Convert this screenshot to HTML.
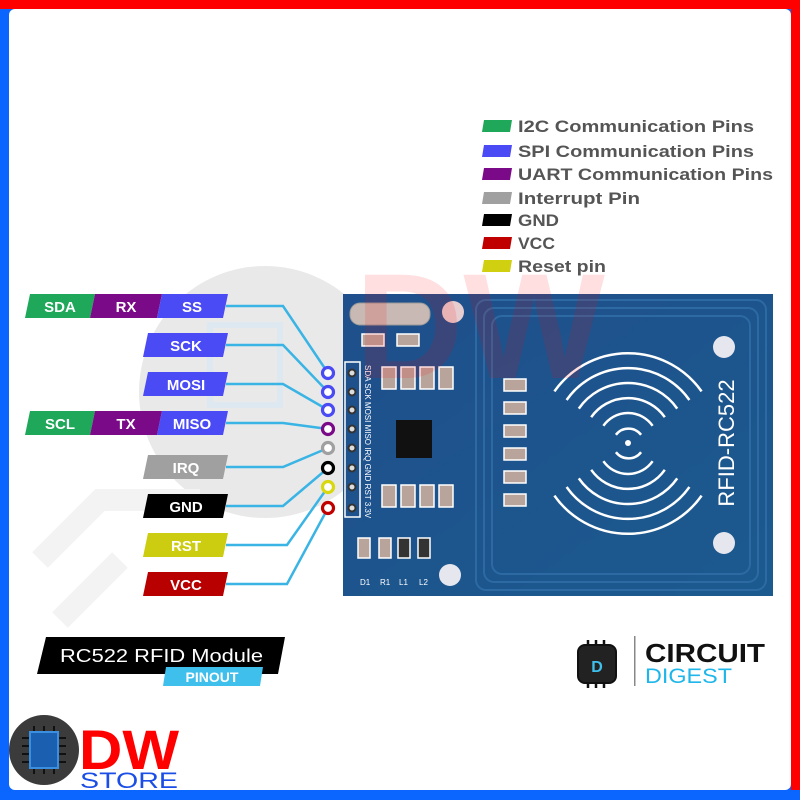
<!DOCTYPE html>
<html><head><meta charset="utf-8"><style>
html,body{margin:0;padding:0;background:#fff}
svg{display:block}
text{font-family:"Liberation Sans",sans-serif}
</style></head><body>
<svg width="800" height="800" viewBox="0 0 800 800" xmlns="http://www.w3.org/2000/svg">
<rect width="800" height="800" fill="#0a66ff"/>
<rect x="0" y="0" width="800" height="9" fill="#ff0000"/>
<rect x="791" y="0" width="9" height="790" fill="#ff0000"/>
<rect x="9" y="9" width="782" height="781" rx="6" fill="#fff"/>

<!-- watermark circle -->
<circle cx="265" cy="392" r="126" fill="#e9e9e9"/>
<rect x="210" y="325" width="70" height="80" fill="none" stroke="#dde8f0" stroke-width="6"/>
<path d="M40 560 L100 500 L200 500 M60 620 L120 560" stroke="#f3f3f3" stroke-width="22" fill="none"/>

<!-- legend -->
<g font-size="17" font-weight="bold" fill="#555" lengthAdjust="spacingAndGlyphs">
<polygon points="484,120 512,120 510,132 482,132" fill="#1fa85a"/><text x="518" y="132" textLength="236" lengthAdjust="spacingAndGlyphs">I2C Communication Pins</text>
<polygon points="484,145 512,145 510,157 482,157" fill="#4b4bf5"/><text x="518" y="157" textLength="236" lengthAdjust="spacingAndGlyphs">SPI Communication Pins</text>
<polygon points="484,168 512,168 510,180 482,180" fill="#7b0a88"/><text x="518" y="180" textLength="255" lengthAdjust="spacingAndGlyphs">UART Communication Pins</text>
<polygon points="484,192 512,192 510,204 482,204" fill="#a0a0a0"/><text x="518" y="204" textLength="122" lengthAdjust="spacingAndGlyphs">Interrupt Pin</text>
<polygon points="484,214 512,214 510,226 482,226" fill="#000"/><text x="518" y="226" textLength="41" lengthAdjust="spacingAndGlyphs">GND</text>
<polygon points="484,237 512,237 510,249 482,249" fill="#c00000"/><text x="518" y="249" textLength="37" lengthAdjust="spacingAndGlyphs">VCC</text>
<polygon points="484,260 512,260 510,272 482,272" fill="#d0d010"/><text x="518" y="272" textLength="88" lengthAdjust="spacingAndGlyphs">Reset pin</text>
</g>

<!-- board -->
<defs><linearGradient id="bg" x1="0" y1="0" x2="1" y2="1"><stop offset="0" stop-color="#1f4f8c"/><stop offset="1" stop-color="#1b5a8e"/></linearGradient></defs>
<rect x="343" y="294" width="430" height="302" fill="url(#bg)"/>
<g fill="none" stroke="#2d6aa3" stroke-width="2">
<rect x="476" y="300" width="290" height="290" rx="10"/>
<rect x="484" y="308" width="274" height="274" rx="10"/>
<rect x="492" y="316" width="258" height="258" rx="10"/>
</g>
<g fill="none" stroke="#fff" stroke-width="2.5">
<path d="M615.9 434.8 A16 16 0 0 1 641.1 434.8"/>
<path d="M603.4 425.8 A30 30 0 0 1 652.6 425.8"/>
<path d="M591.2 417.2 A45 45 0 0 1 664.8 417.2"/>
<path d="M578.8 408.6 A60 60 0 0 1 677.2 408.6"/>
<path d="M566.6 400 A75 75 0 0 1 689.4 400"/>
<path d="M554.4 391.4 A90 90 0 0 1 701.6 391.4"/>
<path d="M615.9 452.2 A16 16 0 0 0 641.1 452.2"/>
<path d="M603.4 461.2 A30 30 0 0 0 652.6 461.2"/>
<path d="M591.2 469.8 A45 45 0 0 0 664.8 469.8"/>
<path d="M578.8 478.4 A60 60 0 0 0 677.2 478.4"/>
<path d="M566.6 487 A75 75 0 0 0 689.4 487"/>
<path d="M554.4 495.6 A90 90 0 0 0 701.6 495.6"/>
</g>
<circle cx="628" cy="443" r="3" fill="#fff"/>
<text transform="translate(734,443) rotate(-90)" text-anchor="middle" font-size="22" fill="#fff">RFID-RC522</text>
<circle cx="453" cy="312" r="11" fill="#e6cdd0"/><circle cx="724" cy="347" r="11" fill="#e6e6ee"/>
<circle cx="724" cy="543" r="11" fill="#e6e6ee"/><circle cx="450" cy="575" r="11" fill="#e6e6ee"/>
<rect x="350" y="303" width="80" height="22" rx="10" fill="#c9b9b4" stroke="#999"/>
<g fill="#b9a49c" stroke="#fff" stroke-width="1.5">
<rect x="504" y="379" width="22" height="12"/><rect x="504" y="402" width="22" height="12"/>
<rect x="504" y="425" width="22" height="12"/><rect x="504" y="448" width="22" height="12"/>
<rect x="504" y="471" width="22" height="12"/><rect x="504" y="494" width="22" height="12"/>
<rect x="362" y="334" width="22" height="12"/><rect x="397" y="334" width="22" height="12"/>
<rect x="382" y="367" width="14" height="22"/><rect x="401" y="367" width="14" height="22"/><rect x="420" y="367" width="14" height="22"/><rect x="439" y="367" width="14" height="22"/>
<rect x="382" y="485" width="14" height="22"/><rect x="401" y="485" width="14" height="22"/><rect x="420" y="485" width="14" height="22"/><rect x="439" y="485" width="14" height="22"/>
<rect x="358" y="538" width="12" height="20"/><rect x="379" y="538" width="12" height="20"/><rect x="398" y="538" width="12" height="20" fill="#333"/><rect x="418" y="538" width="12" height="20" fill="#333"/>
</g>
<rect x="396" y="420" width="36" height="38" fill="#111"/>
<rect x="345" y="362" width="15" height="155" fill="none" stroke="#fff" stroke-width="1.5"/>
<g fill="#ddd" stroke="#333" stroke-width="2">
<circle cx="352" cy="373" r="3.5"/><circle cx="352" cy="392" r="3.5"/><circle cx="352" cy="410" r="3.5"/><circle cx="352" cy="429" r="3.5"/><circle cx="352" cy="448" r="3.5"/><circle cx="352" cy="468" r="3.5"/><circle cx="352" cy="487" r="3.5"/><circle cx="352" cy="508" r="3.5"/>
</g>
<text transform="translate(365,365) rotate(90)" font-size="8" fill="#fff">SDA SCK MOSI MISO IRQ GND RST 3.3V</text>
<g font-size="8" fill="#fff"><text x="360" y="585">D1</text><text x="380" y="585">R1</text><text x="399" y="585">L1</text><text x="419" y="585">L2</text></g>

<!-- DW watermark -->
<text x="355" y="378" font-size="150" font-weight="bold" fill="#ff0000" opacity="0.12">DW</text>

<!-- connectors -->
<g fill="none" stroke="#3ab4e4" stroke-width="2.5">
<path d="M226 306 H283 L328 373"/>
<path d="M226 345 H283 L328 392"/>
<path d="M226 384 H283 L328 410"/>
<path d="M226 423 H283 L328 429"/>
<path d="M226 467 H283 L328 448"/>
<path d="M226 506 H283 L328 468"/>
<path d="M226 545 H287 L328 487"/>
<path d="M226 584 H287 L328 508"/>
</g>
<g fill="#fff" stroke-width="3.2">
<circle cx="328" cy="373" r="5.5" stroke="#4b4bf5"/>
<circle cx="328" cy="392" r="5.5" stroke="#4b4bf5"/>
<circle cx="328" cy="410" r="5.5" stroke="#4b4bf5"/>
<circle cx="328" cy="429" r="5.5" stroke="#7b0a88"/>
<circle cx="328" cy="448" r="5.5" stroke="#a0a0a0"/>
<circle cx="328" cy="468" r="5.5" stroke="#000"/>
<circle cx="328" cy="487" r="5.5" stroke="#d8d810"/>
<circle cx="328" cy="508" r="5.5" stroke="#c00000"/>
</g>

<!-- tags -->
<g font-size="15" font-weight="bold" fill="#fff" text-anchor="middle">
<polygon points="30,294 95,294 90,318 25,318" fill="#1fa85a"/><text x="60" y="312">SDA</text>
<polygon points="95,294 162,294 157,318 90,318" fill="#7b0a88"/><text x="126" y="312">RX</text>
<polygon points="162,294 228,294 223,318 157,318" fill="#4b4bf5"/><text x="192" y="312">SS</text>
<polygon points="148,333 228,333 223,357 143,357" fill="#4b4bf5"/><text x="186" y="351">SCK</text>
<polygon points="148,372 228,372 223,396 143,396" fill="#4b4bf5"/><text x="186" y="390">MOSI</text>
<polygon points="30,411 95,411 90,435 25,435" fill="#1fa85a"/><text x="60" y="429">SCL</text>
<polygon points="95,411 162,411 157,435 90,435" fill="#7b0a88"/><text x="126" y="429">TX</text>
<polygon points="162,411 228,411 223,435 157,435" fill="#4b4bf5"/><text x="192" y="429">MISO</text>
<polygon points="148,455 228,455 223,479 143,479" fill="#a0a0a0"/><text x="186" y="473">IRQ</text>
<polygon points="148,494 228,494 223,518 143,518" fill="#000"/><text x="186" y="512">GND</text>
<polygon points="148,533 228,533 223,557 143,557" fill="#cccc10"/><text x="186" y="551">RST</text>
<polygon points="148,572 228,572 223,596 143,596" fill="#b80000"/><text x="186" y="590">VCC</text>
</g>

<!-- title -->
<polygon points="46,637 285,637 278,674 37,674" fill="#000"/>
<text x="60" y="662" font-size="18" fill="#fff" textLength="203" lengthAdjust="spacingAndGlyphs">RC522 RFID Module</text>
<polygon points="166,667 263,667 260,686 163,686" fill="#3fbfec"/>
<text x="212" y="682" font-size="14" font-weight="bold" fill="#fff" text-anchor="middle">PINOUT</text>

<!-- circuit digest -->
<g stroke="#111" stroke-width="2.5">
<path d="M580 652 h34 M580 660 h34 M580 668 h34 M580 676 h34 M588 640 v48 M596 640 v48 M604 640 v48"/>
</g>
<rect x="578" y="645" width="38" height="38" rx="7" fill="#222" stroke="#111" stroke-width="2"/>
<text x="597" y="672" font-size="16" font-weight="bold" fill="#3fbfec" text-anchor="middle">D</text>
<rect x="634" y="636" width="1.5" height="50" fill="#888"/>
<text x="645" y="662" font-size="26" font-weight="bold" fill="#111" textLength="120" lengthAdjust="spacingAndGlyphs">CIRCUIT</text>
<text x="645" y="683" font-size="21" fill="#1fb6ea" textLength="87" lengthAdjust="spacingAndGlyphs">DIGEST</text>

<!-- DW store -->
<circle cx="44" cy="750" r="35" fill="#3b3b3b"/>
<g stroke="#111" stroke-width="2"><path d="M22 738 h44 M22 746 h44 M22 754 h44 M22 762 h44 M34 726 v48 M44 726 v48 M54 726 v48"/></g>
<rect x="30" y="732" width="28" height="36" fill="#1a5fb0" stroke="#3b8fe0" stroke-width="2"/>
<text x="79" y="769" font-size="56" font-weight="bold" fill="#ff0000" textLength="100" lengthAdjust="spacingAndGlyphs">DW</text>
<text x="80" y="788" font-size="22" fill="#1a4ee6" textLength="98" lengthAdjust="spacingAndGlyphs">STORE</text>
</svg>
</body></html>
